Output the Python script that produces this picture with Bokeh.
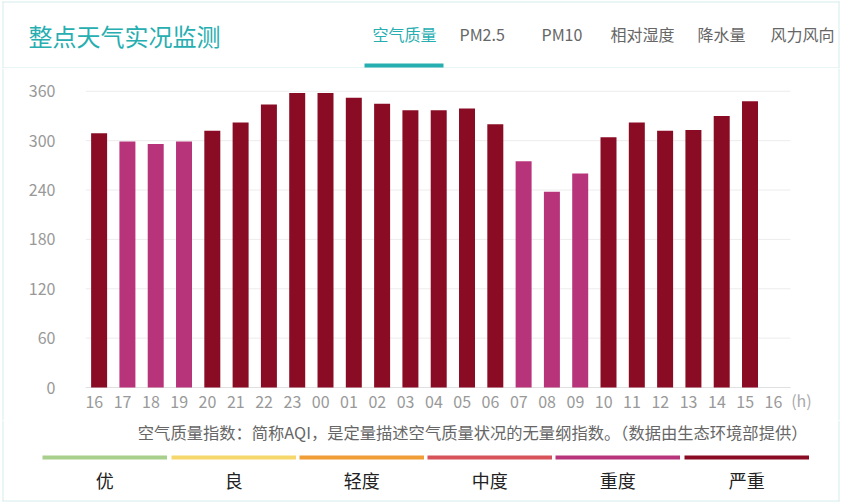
from bokeh.plotting import figure
from bokeh.models import Range1d, FixedTicker, ColumnDataSource
from bokeh.layouts import column, row
from bokeh.core.properties import value
from bokeh.embed import file_html
from bokeh.resources import INLINE

# ---------------- data ----------------
hour_labels = ["16", "17", "18", "19", "20", "21", "22", "23", "00", "01", "02", "03",
               "04", "05", "06", "07", "08", "09", "10", "11", "12", "13", "14", "15", "16"]
aqi = [309, 299, 296, 299, 312, 322, 344, 358, 358, 352, 345, 337,
       337, 339, 320, 275, 238, 260, 304, 322, 312, 313, 330, 348]
y_ticks = [0, 60, 120, 180, 240, 300, 360]
level_names = ["优", "良", "轻度", "中度", "重度", "严重"]
level_colors = ["#a8d08c", "#f5d76b", "#f09d36", "#d8525a", "#b8347a", "#8a0b24"]
level_upper = [50, 100, 150, 200, 300, 500]
tab_names = ["空气质量", "PM2.5", "PM10", "相对湿度", "降水量", "风力风向"]
title_text = "整点天气实况监测"
note_text = "空气质量指数：简称AQI，是定量描述空气质量状况的无量纲指数。（数据由生态环境部提供）"
unit_text = "(h)"

# ---------------- styling / layout ----------------
FONT = "Noto Sans CJK SC"
TEAL = "#27aeb1"
BORDER = "#d6ecec"
W = 845
HEADER_H, CHART_H, FOOTER_H = 68, 352, 83
LEFT_W = 5
CHART_W = W - LEFT_W
PX_PER_HOUR = 28.3
FRAME_LEFT = 85          # page x of plot frame left edge
X_START = -0.311         # data x at frame left
GRID_END = 24.60         # data x where grid / axis line end
Y_PX_PER_UNIT = 0.8228
ROW_TOP, ZERO_Y, ROW_BOTTOM = 68, 387, 420


def level_color(v):
    for up, c in zip(level_upper, level_colors):
        if v <= up:
            return c
    return level_colors[-1]


def pixel_fig(w, h):
    f = figure(width=w, height=h, x_range=Range1d(0, w), y_range=Range1d(h, 0),
               x_axis_location=None, y_axis_location=None, min_border=0,
               toolbar_location=None, output_backend="svg")
    f.outline_line_color = None
    f.grid.visible = False
    f.background_fill_color = "white"
    f.border_fill_color = "white"
    return f


def txt(f, x, y, s, size, color, align="left"):
    f.text(x=[x], y=[y], text=[s], text_font=value(FONT), text_font_size=value(size),
           text_color=color, text_align=align, text_baseline="middle")


def rect(f, l, r, t, b, color):
    f.quad(left=[l], right=[r], top=[t], bottom=[b], fill_color=color, line_color=None)


# ---------------- header ----------------
hdr = pixel_fig(W, HEADER_H)
rect(hdr, 2, 839, 1, 2, BORDER)
rect(hdr, 2, 3, 1, HEADER_H, BORDER)
rect(hdr, 838, 839, 1, HEADER_H, BORDER)
rect(hdr, 2, 839, 67, 68, BORDER)
txt(hdr, 28, 35, title_text, "24px", TEAL)
tab_x = [372, 459, 541, 610, 697, 770]
for i, (name, tx) in enumerate(zip(tab_names, tab_x)):
    txt(hdr, tx, 33.5, name, "16px", TEAL if i == 0 else "#666666")
rect(hdr, 364, 443, 63, 67, TEAL)

# ---------------- chart ----------------
bar_colors = [level_color(v) for v in aqi]
src = ColumnDataSource(dict(x=[i + 0.17 for i in range(len(aqi))], top=aqi, color=bar_colors))

x_end = X_START + (W - FRAME_LEFT) / PX_PER_HOUR
y_end = (ZERO_Y - ROW_TOP) / Y_PX_PER_UNIT
y_start = -(ROW_BOTTOM - ZERO_Y) / Y_PX_PER_UNIT
p = figure(width=CHART_W, height=CHART_H, output_backend="svg", toolbar_location=None,
           x_range=Range1d(X_START, x_end), y_range=Range1d(y_start, y_end),
           min_border_left=FRAME_LEFT - LEFT_W, min_border_right=0,
           min_border_top=0, min_border_bottom=0)
p.outline_line_color = None
p.background_fill_color = "white"
p.border_fill_color = "white"
p.grid.visible = False

# horizontal grid lines (stop where the category axis ends)
p.segment(x0=[X_START] * len(y_ticks), x1=[GRID_END] * len(y_ticks), y0=y_ticks, y1=y_ticks,
          line_color="#ececec", line_width=1)
# category axis line
p.segment(x0=[X_START], x1=[GRID_END], y0=[0], y1=[0], line_color="#e0e0e0", line_width=1)
# outer right border
border_x = X_START + (838.5 - FRAME_LEFT) / PX_PER_HOUR
p.segment(x0=[border_x], x1=[border_x], y0=[y_start], y1=[y_end], line_color=BORDER, line_width=1)

p.vbar(x="x", top="top", bottom=0, width=0.565, color="color", line_color=None, source=src)

# unit of the hour axis
p.text(x=[X_START + (790.7 - FRAME_LEFT) / PX_PER_HOUR], y=[(ZERO_Y - 399.3) / Y_PX_PER_UNIT],
       text=[unit_text], text_font=value(FONT), text_font_size=value("16px"),
       text_color="#aaaaaa", text_align="left", text_baseline="middle")

p.yaxis.ticker = FixedTicker(ticks=y_ticks)
p.yaxis.axis_line_color = None
p.yaxis.major_tick_line_color = None
p.yaxis.minor_tick_line_color = None
p.yaxis.major_tick_out = 0
p.yaxis.major_tick_in = 0
p.yaxis.major_label_standoff = 30
p.yaxis.major_label_text_font = FONT
p.yaxis.major_label_text_font_size = "16px"
p.yaxis.major_label_text_color = "#999999"

p.xaxis.fixed_location = 0
p.xaxis.ticker = FixedTicker(ticks=list(range(len(hour_labels))))
p.xaxis.major_label_overrides = {i: s for i, s in enumerate(hour_labels)}
p.xaxis.axis_line_color = None
p.xaxis.major_tick_line_color = None
p.xaxis.minor_tick_line_color = None
p.xaxis.major_tick_out = 0
p.xaxis.major_tick_in = 0
p.xaxis.major_label_standoff = 8
p.xaxis.major_label_text_font = FONT
p.xaxis.major_label_text_font_size = "16px"
p.xaxis.major_label_text_color = "#999999"

left = pixel_fig(LEFT_W, CHART_H)
rect(left, 2, 3, 0, CHART_H, BORDER)

# ---------------- footer ----------------
ftr = pixel_fig(W, FOOTER_H)
rect(ftr, 2, 3, 0, 81, BORDER)
rect(ftr, 838, 839, 0, 81, BORDER)
rect(ftr, 2, 839, 80, 81, BORDER)
txt(ftr, 807, 11.7, note_text, "16.3px", "#666666", align="right")
seg_left = [42, 171, 299, 427, 555, 684]
seg_w = 124.5
for name, col, lx in zip(level_names, level_colors, seg_left):
    rect(ftr, lx, lx + seg_w, 35, 39, col)
    txt(ftr, lx + seg_w / 2, 59, name, "18px", "#222222", align="center")

layout = column(hdr, row(left, p, spacing=0), ftr, spacing=0)
open("out.html", "w").write(file_html(layout, INLINE))
